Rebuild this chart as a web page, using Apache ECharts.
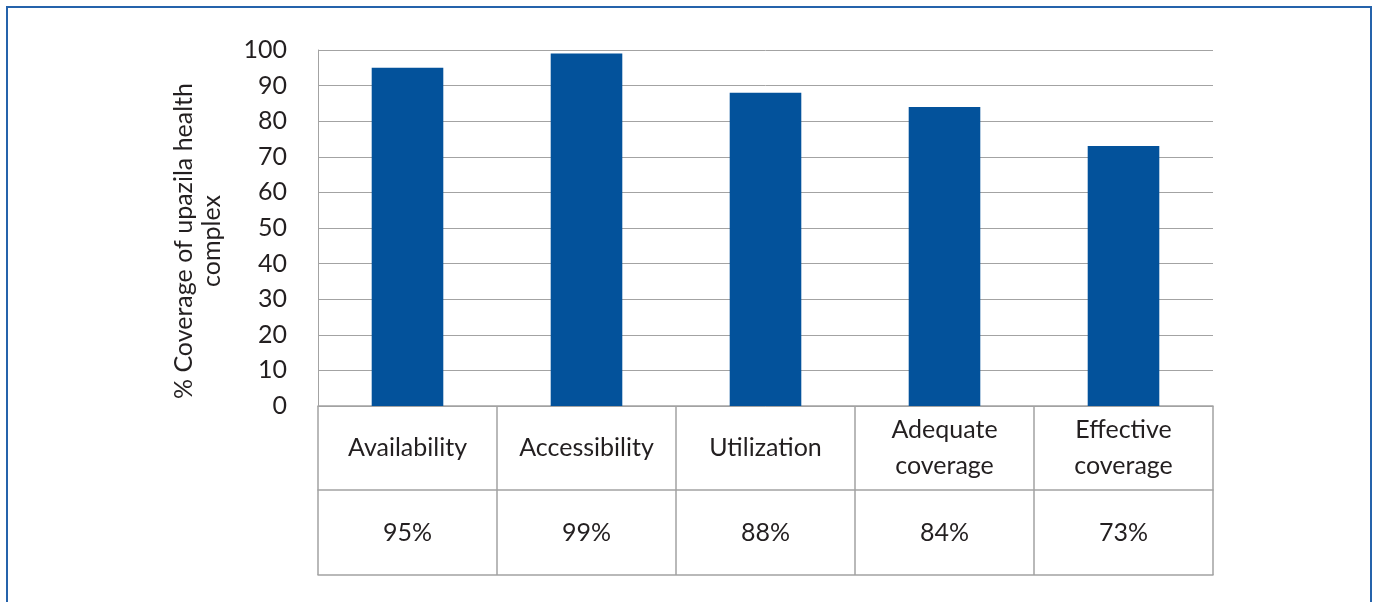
<!DOCTYPE html>
<html>
<head>
<meta charset="utf-8">
<script src="https://cdn.jsdelivr.net/npm/echarts@6/dist/echarts.min.js"></script>
<style>
  html, body { margin: 0; padding: 0; background: #fff; }
  #frame { position: absolute; left: 6px; top: 6px; width: 1366px; height: 610px; border: 2px solid #2563ab; box-sizing: border-box; }
  #chart { position: absolute; left: 0; top: 0; width: 1376px; height: 602px; }
</style>
</head>
<body>
<div id="frame"></div>
<div id="chart"></div>
<script>
// Coverage dimensions of the upazila health complex
const categories = ['Availability', 'Accessibility', 'Utilization', 'Adequate\ncoverage', 'Effective\ncoverage'];
const coverage = [95, 99, 88, 84, 73];
const yTicks = { min: 0, max: 100, interval: 10 };

const FONT = 'Lato';
const SIZE = 25;
const TEXT = '#231f20';
const RULE = '#a3a3a3';

const chart = echarts.init(document.getElementById('chart'));
chart.setOption({
  animation: false,
  grid: { left: 318, right: 163, top: 50, bottom: 196 },
  yAxis: {
    type: 'value',
    min: yTicks.min, max: yTicks.max, interval: yTicks.interval,
    name: '% Coverage of upazila health\ncomplex',
    nameLocation: 'middle',
    nameRotate: 90,
    nameGap: 92,
    nameTextStyle: { fontFamily: FONT, fontSize: SIZE, color: TEXT, lineHeight: 28, padding: [0, 26, 0, 0] },
    axisLine: { show: true, lineStyle: { color: RULE, width: 1 } },
    axisTick: { show: false },
    axisLabel: { fontFamily: FONT, fontSize: SIZE, color: TEXT, margin: 31 },
    splitLine: { lineStyle: { color: RULE, width: 1 } }
  },
  xAxis: [
    {
      // category row of the data table
      type: 'category',
      data: categories,
      position: 'bottom',
      axisLine: { show: true, lineStyle: { color: RULE, width: 1.5 } },
      axisTick: { show: true, interval: 0, length: 169, lineStyle: { color: RULE, width: 1.5 } },
      axisLabel: { interval: 0, fontFamily: FONT, fontSize: SIZE, color: TEXT, margin: 42, verticalAlign: 'middle', lineHeight: 36 }
    },
    {
      // value row of the data table
      type: 'category',
      data: coverage.map(v => v + '%'),
      position: 'bottom',
      offset: 84,
      axisLine: { show: true, lineStyle: { color: RULE, width: 1.5 } },
      axisTick: { show: false },
      axisLabel: { interval: 0, fontFamily: FONT, fontSize: SIZE, color: TEXT, margin: 43, verticalAlign: 'middle' }
    },
    {
      // bottom edge of the table
      type: 'category',
      data: categories,
      position: 'bottom',
      offset: 169,
      axisLine: { show: true, lineStyle: { color: RULE, width: 1.5 } },
      axisTick: { show: false },
      axisLabel: { show: false }
    }
  ],
  series: [{
    type: 'bar',
    xAxisIndex: 0,
    data: coverage,
    barWidth: '40%',
    itemStyle: { color: '#03529b' }
  }]
});
</script>
</body>
</html>
